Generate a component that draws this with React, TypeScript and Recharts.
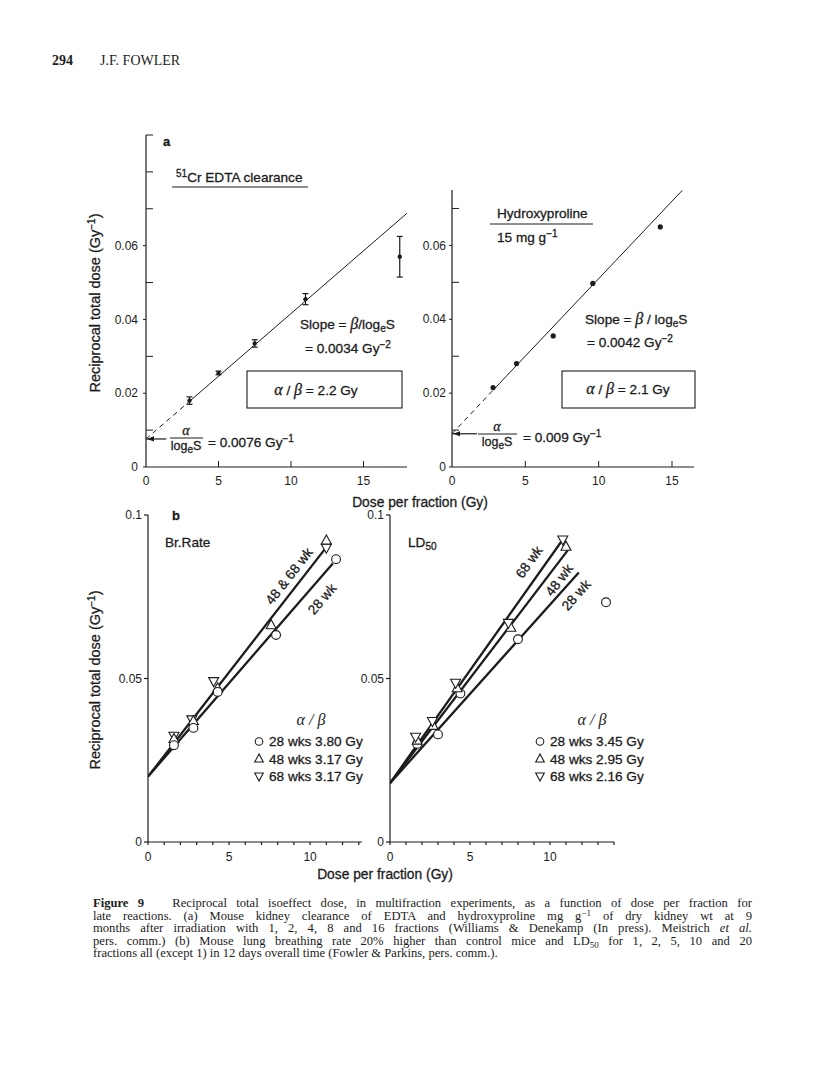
import React from 'react';
import { ComposedChart, Line, Scatter, XAxis, YAxis, ErrorBar, ReferenceLine, ReferenceDot } from 'recharts';

const SANS = '"Liberation Sans", Arial, sans-serif';
const SERIF = '"Liberation Serif", "Times New Roman", serif';
const INK = '#1c1c1c';

// (a) 51Cr EDTA clearance
const edtaDose = [3, 5, 7.5, 11, 17.5];
const edtaRecip = [0.018, 0.0255, 0.0335, 0.0455, 0.057];
const edtaErr = [0.001, 0.0005, 0.001, 0.0015, 0.0055];
const edtaDashX = [0, 3];
const edtaDashY = [0.0076, 0.0178];
const edtaFitX = [3, 18];
const edtaFitY = [0.0178, 0.0688];
const edtaIntercept = 0.0076;

// (a) hydroxyproline 15 mg/g
const hypDose = [2.8, 4.4, 6.9, 9.6, 14.2];
const hypRecip = [0.0215, 0.028, 0.0355, 0.0497, 0.065];
const hypDashX = [0, 2.8];
const hypDashY = [0.009, 0.0208];
const hypFitX = [2.8, 15.7];
const hypFitY = [0.0208, 0.0749];
const hypIntercept = 0.009;

// (b) breathing rate
const brDose28 = [1.6, 2.8, 4.3, 7.9, 11.6];
const brRecip28 = [0.0296, 0.0349, 0.0459, 0.0633, 0.0865];
const brDose48 = [1.6, 2.8, 4.3, 7.6, 11.0];
const brRecip48 = [0.0315, 0.037, 0.047, 0.0663, 0.0922];
const brDose68 = [1.6, 2.7, 4.05, 11.0];
const brRecip68 = [0.0325, 0.0375, 0.0492, 0.09];
const brFit4868X = [0, 11.1];
const brFit4868Y = [0.02, 0.0908];
const brFit28X = [0, 11.4];
const brFit28Y = [0.02, 0.0852];

// (b) LD50
const ldDose28 = [1.7, 3.0, 4.4, 8.0, 13.5];
const ldRecip28 = [0.03, 0.0329, 0.0454, 0.062, 0.0733];
const ldDose48 = [1.7, 2.7, 4.2, 7.55, 11.0];
const ldRecip48 = [0.031, 0.0355, 0.047, 0.0655, 0.0903];
const ldDose68 = [1.6, 2.65, 4.1, 7.4, 10.8];
const ldRecip68 = [0.0322, 0.037, 0.0487, 0.067, 0.0925];
const ldFit68X = [0, 10.8];
const ldFit68Y = [0.018, 0.0925];
const ldFit48X = [0, 11.2];
const ldFit48Y = [0.018, 0.0898];
const ldFit28X = [0, 11.8];
const ldFit28Y = [0.018, 0.0824];

// axis ticks
const aXTicks = [0, 5, 10, 15];
const aYTicksLeft = [0, 0.01, 0.02, 0.03, 0.04, 0.05, 0.06, 0.07, 0.08, 0.09];
const aYTicksRight = [0, 0.01, 0.02, 0.03, 0.04, 0.05, 0.06, 0.07];
const aYLabelled = [0, 0.02, 0.04, 0.06];
const bXTicksLeft = [0, 1, 2, 3, 4, 5, 6, 7, 8, 9, 10, 11, 12, 13];
const bXTicksRight = [0, 1, 2, 3, 4, 5, 6, 7, 8, 9, 10, 11, 12, 13, 14];
const bXLabelled = [0, 5, 10];
const bYTicks = [0, 0.05, 0.1];

const captionLines = [
  'Reciprocal total isoeffect dose, in multifraction experiments, as a function of dose per fraction for',
  'late reactions. (a) Mouse kidney clearance of EDTA and hydroxyproline mg g',
  'months after irradiation with 1, 2, 4, 8 and 16 fractions (Williams & Denekamp (In press). Meistrich',
  'pers. comm.) (b) Mouse lung breathing rate 20% higher than control mice and LD',
  'fractions all (except 1) in 12 days overall time (Fowler & Parkins, pers. comm.).',
];

const pts = (xs: number[], ys: number[]) => xs.map((x, i) => ({ x, y: ys[i] }));
const has = (list: number[], v: number) => list.some((l) => Math.abs(l - v) < 1e-9);
const fmt = (v: number) => (v === 0 ? '0' : String(v));

const tickText = { fontFamily: SANS, fontSize: 12, fill: INK };

const aYTick = (gap: number) => (p: any) => {
  const v = p.payload.value;
  if (has(aYLabelled, v)) {
    return (
      <g>
        <line x1={p.x - 3} x2={p.x} y1={p.y} y2={p.y} stroke={INK} />
        <text x={p.x - gap} y={p.y} dy="0.35em" textAnchor="end" {...tickText}>
          {fmt(v)}
        </text>
      </g>
    );
  }
  return <line x1={p.x} x2={p.x + 7} y1={p.y} y2={p.y} stroke={INK} />;
};

const aXTick = (p: any) => {
  const v = p.payload.value;
  return (
    <g>
      {v !== 0 && <line x1={p.x} x2={p.x} y1={p.y} y2={p.y - 6} stroke={INK} />}
      <text x={p.x} y={p.y + 18} textAnchor="middle" {...tickText}>
        {fmt(v)}
      </text>
    </g>
  );
};

const bYTick = (p: any) => {
  const v = p.payload.value;
  return (
    <g>
      <line x1={p.x - 4} x2={p.x} y1={p.y} y2={p.y} stroke={INK} strokeWidth={1.2} />
      <text x={p.x - 6} y={p.y} dy="0.35em" textAnchor="end" {...tickText}>
        {fmt(v)}
      </text>
    </g>
  );
};

const bXTick = (p: any) => {
  const v = p.payload.value;
  return (
    <g>
      <line x1={p.x} x2={p.x} y1={p.y} y2={p.y + 3} stroke={INK} strokeWidth={1.2} />
      {has(bXLabelled, v) && (
        <text x={p.x} y={p.y + 19} textAnchor="middle" {...tickText}>
          {fmt(v)}
        </text>
      )}
    </g>
  );
};

const SmallDot = (r: number) => (p: any) => <circle cx={p.cx} cy={p.cy} r={r} fill={INK} />;
const OpenCircle = (p: any) => (
  <circle cx={p.cx} cy={p.cy} r={4.4} fill="#fff" stroke={INK} strokeWidth={1.1} />
);
const TriUp = (p: any) => (
  <polygon
    points={`${p.cx},${p.cy - 5.5} ${p.cx - 5},${p.cy + 3.5} ${p.cx + 5},${p.cy + 3.5}`}
    fill="#fff"
    stroke={INK}
    strokeWidth={1.1}
  />
);
const TriDown = (p: any) => (
  <polygon
    points={`${p.cx},${p.cy + 5.5} ${p.cx - 5},${p.cy - 3.5} ${p.cx + 5},${p.cy - 3.5}`}
    fill="#fff"
    stroke={INK}
    strokeWidth={1.1}
  />
);
const ArrowHead = (p: any) => (
  <polygon points={`${p.cx + 1},${p.cy} ${p.cx + 8},${p.cy - 2.6} ${p.cx + 8},${p.cy + 2.6}`} fill={INK} />
);

const axisLine = { stroke: INK, strokeWidth: 1.2 };

function Panel({ left, top, width, height, xDomain, xTicks, xTick, yDomain, yTicks, yTick, children }: any) {
  return (
    <div style={{ position: 'absolute', left, top }}>
      <ComposedChart width={width} height={height} margin={{ top: 15, right: 5, bottom: 0, left: 0 }}>
        <XAxis
          type="number"
          dataKey="x"
          domain={xDomain}
          ticks={xTicks}
          interval={0}
          tick={xTick}
          tickLine={false}
          tickSize={0}
          tickMargin={0}
          axisLine={axisLine}
          height={30}
          allowDataOverflow
        />
        <YAxis
          type="number"
          dataKey="y"
          domain={yDomain}
          ticks={yTicks}
          interval={0}
          tick={yTick}
          tickLine={false}
          tickSize={0}
          tickMargin={0}
          axisLine={axisLine}
          width={50}
          allowDataOverflow
        />
        {children}
      </ComposedChart>
    </div>
  );
}

const thin = { stroke: INK, strokeWidth: 1, dot: false, isAnimationActive: false, type: 'linear' as const };
const thick = { stroke: INK, strokeWidth: 2.3, dot: false, isAnimationActive: false, type: 'linear' as const };

const Sup = ({ children }: any) => (
  <tspan baselineShift="5" fontSize={10}>
    {children}
  </tspan>
);
const Sub = ({ children }: any) => (
  <tspan baselineShift="-3" fontSize={10}>
    {children}
  </tspan>
);

function Notes() {
  const t = { fontFamily: SANS, fontSize: 13.6, fill: INK, stroke: INK, strokeWidth: 0.3 };
  const greek = { fontFamily: SERIF, fontStyle: 'italic' as const, fontSize: 16 };
  const Frac = ({ cx, y, x1, x2 }: any) => (
    <g>
      <text x={cx} y={y} textAnchor="middle" {...t} {...greek} fontSize={14}>
        α
      </text>
      <line x1={x1} x2={x2} y1={y + 3} y2={y + 3} stroke={INK} strokeWidth={1.1} />
      <text x={cx} y={y + 15} textAnchor="middle" {...t} fontSize={12.5}>
        log<Sub>e</Sub>S
      </text>
    </g>
  );
  const Legend = ({ x, y, rows }: any) => (
    <g>
      <text x={x + 52} y={y - 21} textAnchor="middle" {...t} {...greek} strokeWidth={0}>
        α / β
      </text>
      {rows.map((r: any, i: number) => {
        const cy = y + i * 17.5;
        const sym =
          r.s === 'o' ? (
            <circle cx={x} cy={cy - 4.5} r={3.8} fill="none" stroke={INK} strokeWidth={1.1} />
          ) : r.s === 'u' ? (
            <polygon points={`${x},${cy - 9.5} ${x - 4.3},${cy - 1.5} ${x + 4.3},${cy - 1.5}`} fill="none" stroke={INK} strokeWidth={1.1} />
          ) : (
            <polygon points={`${x},${cy} ${x - 4.3},${cy - 8} ${x + 4.3},${cy - 8}`} fill="none" stroke={INK} strokeWidth={1.1} />
          );
        return (
          <g key={i}>
            {sym}
            <text x={x + 10} y={cy} {...t}>
              {r.label}
            </text>
          </g>
        );
      })}
    </g>
  );
  return (
    <svg width={816} height={1085} style={{ position: 'absolute', left: 0, top: 0, pointerEvents: 'none' }}>
      {/* panel a, left */}
      <text x={163} y={146} {...t} fontWeight="bold" fontSize={13}>
        a
      </text>
      <text x={176} y={182} {...t}>
        <Sup>51</Sup>Cr EDTA clearance
      </text>
      <line x1={172} x2={308} y1={187} y2={187} stroke={INK} strokeWidth={1.2} />
      <text x={300} y={329} {...t}>
        Slope = <tspan {...greek}>β</tspan>/log<Sub>e</Sub>S
      </text>
      <text x={305} y={353} {...t}>
        = 0.0034 Gy<Sup>−2</Sup>
      </text>
      <rect x={247} y={371} width={155} height={37} fill="none" stroke={INK} strokeWidth={1.1} />
      <text x={316} y={395} textAnchor="middle" {...t}>
        <tspan {...greek}>α</tspan> / <tspan {...greek}>β</tspan> = 2.2 Gy
      </text>
      <Frac cx={186} y={435} x1={170} x2={203} />
      <text x={208} y={447} {...t}>
        = 0.0076 Gy<Sup>−1</Sup>
      </text>

      {/* panel a, right */}
      <text x={497} y={218} {...t}>
        Hydroxyproline
      </text>
      <line x1={490} x2={593} y1={224} y2={224} stroke={INK} strokeWidth={1.2} />
      <text x={497} y={242} {...t}>
        15 mg g<Sup>−1</Sup>
      </text>
      <text x={585} y={324} {...t}>
        Slope = <tspan {...greek}>β</tspan> / log<Sub>e</Sub>S
      </text>
      <text x={587} y={347} {...t}>
        = 0.0042 Gy<Sup>−2</Sup>
      </text>
      <rect x={562} y={371} width={133} height={37} fill="none" stroke={INK} strokeWidth={1.1} />
      <text x={628} y={394} textAnchor="middle" {...t}>
        <tspan {...greek}>α</tspan> / <tspan {...greek}>β</tspan> = 2.1 Gy
      </text>
      <Frac cx={497} y={431} x1={478} x2={517} />
      <text x={523} y={442} {...t}>
        = 0.009 Gy<Sup>−1</Sup>
      </text>

      {/* axis titles */}
      <text transform="translate(100,303) rotate(-90)" textAnchor="middle" {...t} fontSize={14.5}>
        Reciprocal total dose (Gy<Sup>−1</Sup>)
      </text>
      <text x={420} y={507} textAnchor="middle" {...t} fontSize={13.8}>
        Dose per fraction (Gy)
      </text>
      <text transform="translate(100,680) rotate(-90)" textAnchor="middle" {...t} fontSize={14.5}>
        Reciprocal total dose (Gy<Sup>−1</Sup>)
      </text>
      <text x={385} y={879} textAnchor="middle" {...t} fontSize={13.8}>
        Dose per fraction (Gy)
      </text>

      {/* panel b */}
      <text x={172} y={520} {...t} fontWeight="bold" fontSize={13}>
        b
      </text>
      <text x={165} y={547} {...t}>
        Br.Rate
      </text>
      <text x={408} y={547} {...t}>
        LD<Sub>50</Sub>
      </text>
      <text transform="translate(289,576) rotate(-52)" textAnchor="middle" dy="0.35em" {...t}>
        48 &amp; 68 wk
      </text>
      <text transform="translate(322,599) rotate(-49)" textAnchor="middle" dy="0.35em" {...t}>
        28 wk
      </text>
      <text transform="translate(529,562) rotate(-54)" textAnchor="middle" dy="0.35em" {...t}>
        68 wk
      </text>
      <text transform="translate(559,580) rotate(-53)" textAnchor="middle" dy="0.35em" {...t}>
        48 wk
      </text>
      <text transform="translate(576,595) rotate(-48)" textAnchor="middle" dy="0.35em" {...t}>
        28 wk
      </text>
      <Legend
        x={259}
        y={746}
        rows={[
          { s: 'o', label: '28 wks 3.80 Gy' },
          { s: 'u', label: '48 wks 3.17 Gy' },
          { s: 'd', label: '68 wks 3.17 Gy' },
        ]}
      />
      <Legend
        x={540}
        y={746}
        rows={[
          { s: 'o', label: '28 wks 3.45 Gy' },
          { s: 'u', label: '48 wks 2.95 Gy' },
          { s: 'd', label: '68 wks 2.16 Gy' },
        ]}
      />
    </svg>
  );
}

const capLine = { textAlign: 'justify' as const, textAlignLast: 'justify' as const, height: 12.6 };
const capSup = { position: 'relative' as const, top: -4, fontSize: 9 };
const capSub = { position: 'relative' as const, top: 3, fontSize: 9 };

export default function App() {
  const edtaPts = edtaDose.map((x, i) => ({ x, y: edtaRecip[i], err: edtaErr[i] }));
  return (
    <div style={{ position: 'absolute', left: 0, top: 0, width: 816, height: 1085, background: '#fff', overflow: 'hidden' }}>
      <div style={{ position: 'absolute', left: 52, top: 53, fontFamily: SERIF, fontSize: 14, color: INK }}>
        <b>294</b>
      </div>
      <div style={{ position: 'absolute', left: 100, top: 53, fontFamily: SERIF, fontSize: 14, color: INK }}>
        J.F. FOWLER
      </div>

      {/* (a) EDTA */}
      <Panel left={96} top={120} width={316} height={377} xDomain={[0, 18]} xTicks={aXTicks} xTick={aXTick} yDomain={[0, 0.09]} yTicks={aYTicksLeft} yTick={aYTick(8)}>
        <Line data={pts(edtaDashX, edtaDashY)} dataKey="y" {...thin} strokeDasharray="5 4" />
        <Line data={pts(edtaFitX, edtaFitY)} dataKey="y" {...thin} />
        <ReferenceLine segment={[{ x: 0, y: edtaIntercept }, { x: 1.4, y: edtaIntercept }]} stroke={INK} strokeWidth={1.2} />
        <ReferenceDot x={0} y={edtaIntercept} r={0} shape={ArrowHead} />
        <Scatter data={edtaPts} dataKey="y" shape={SmallDot(2.2)} isAnimationActive={false}>
          <ErrorBar dataKey="err" direction="y" width={3} stroke={INK} strokeWidth={1.2} />
        </Scatter>
      </Panel>

      {/* (a) hydroxyproline */}
      <Panel left={402} top={175} width={297} height={322} xDomain={[0, 16.5]} xTicks={aXTicks} xTick={aXTick} yDomain={[0, 0.075]} yTicks={aYTicksRight} yTick={aYTick(6)}>
        <Line data={pts(hypDashX, hypDashY)} dataKey="y" {...thin} strokeDasharray="5 4" />
        <Line data={pts(hypFitX, hypFitY)} dataKey="y" {...thin} />
        <ReferenceLine segment={[{ x: 0, y: hypIntercept }, { x: 1.7, y: hypIntercept }]} stroke={INK} strokeWidth={1.2} />
        <ReferenceDot x={0} y={hypIntercept} r={0} shape={ArrowHead} />
        <Scatter data={pts(hypDose, hypRecip)} dataKey="y" shape={SmallDot(2.6)} isAnimationActive={false} />
      </Panel>

      {/* (b) breathing rate */}
      <Panel left={98} top={500} width={269} height={372} xDomain={[0, 13.2]} xTicks={bXTicksLeft} xTick={bXTick} yDomain={[0, 0.1]} yTicks={bYTicks} yTick={bYTick}>
        <Line data={pts(brFit4868X, brFit4868Y)} dataKey="y" {...thick} />
        <Line data={pts(brFit28X, brFit28Y)} dataKey="y" {...thick} />
        <Scatter data={pts(brDose68, brRecip68)} dataKey="y" shape={TriDown} isAnimationActive={false} />
        <Scatter data={pts(brDose48, brRecip48)} dataKey="y" shape={TriUp} isAnimationActive={false} />
        <Scatter data={pts(brDose28, brRecip28)} dataKey="y" shape={OpenCircle} isAnimationActive={false} />
      </Panel>

      {/* (b) LD50 */}
      <Panel left={340} top={500} width={279} height={372} xDomain={[0, 14]} xTicks={bXTicksRight} xTick={bXTick} yDomain={[0, 0.1]} yTicks={bYTicks} yTick={bYTick}>
        <Line data={pts(ldFit68X, ldFit68Y)} dataKey="y" {...thick} />
        <Line data={pts(ldFit48X, ldFit48Y)} dataKey="y" {...thick} />
        <Line data={pts(ldFit28X, ldFit28Y)} dataKey="y" {...thick} />
        <Scatter data={pts(ldDose28, ldRecip28)} dataKey="y" shape={OpenCircle} isAnimationActive={false} />
        <Scatter data={pts(ldDose48, ldRecip48)} dataKey="y" shape={TriUp} isAnimationActive={false} />
        <Scatter data={pts(ldDose68, ldRecip68)} dataKey="y" shape={TriDown} isAnimationActive={false} />
      </Panel>

      <Notes />

      {/* caption */}
      <div style={{ position: 'absolute', left: 93, top: 897, width: 659, fontFamily: SERIF, fontSize: 12.6, lineHeight: '12.6px', color: INK }}>
        <div style={capLine}>
          <b>Figure 9</b>&nbsp;&nbsp; {captionLines[0]}
        </div>
        <div style={capLine}>
          {captionLines[1]}
          <span style={capSup}>−1</span> of dry kidney wt at 9
        </div>
        <div style={capLine}>
          {captionLines[2]} <i>et al.</i>
        </div>
        <div style={capLine}>
          {captionLines[3]}
          <span style={capSub}>50</span> for 1, 2, 5, 10 and 20
        </div>
        <div style={{ height: 12.6 }}>{captionLines[4]}</div>
      </div>
    </div>
  );
}
